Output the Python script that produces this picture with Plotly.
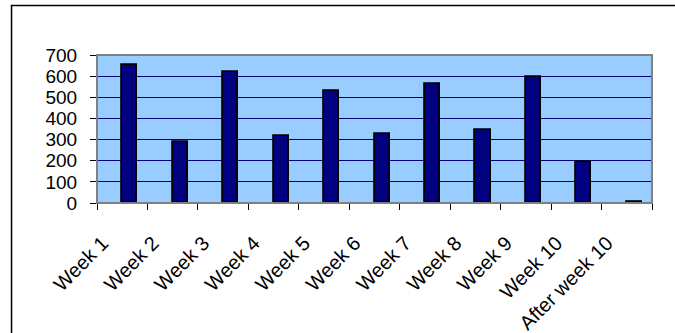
import plotly.graph_objects as go

categories = ["Week 1", "Week 2", "Week 3", "Week 4", "Week 5", "Week 6",
              "Week 7", "Week 8", "Week 9", "Week 10", "After week 10"]
values = [655, 289, 621, 316, 529, 325, 564, 344, 594, 196, 7]
y_ticks = [0, 100, 200, 300, 400, 500, 600, 700]

fig = go.Figure()
fig.add_trace(go.Bar(
    x=categories, y=values,
    width=0.3, offset=0.0,
    marker=dict(color="#000080", line=dict(color="#000000", width=1.8)),
))

font = dict(family="Liberation Sans, Arial, sans-serif", size=19, color="#000000")
xfont = dict(family="Liberation Sans, Arial, sans-serif", size=20, color="#000000")
pad_text = "\u00a0" * 5

fig.update_layout(
    width=675, height=333,
    margin=dict(l=97, r=23, t=55, b=130, pad=0, autoexpand=False),
    paper_bgcolor="#FFFFFF",
    plot_bgcolor="#99CCFF",
    showlegend=False,
    bargap=0,
    font=font,
    xaxis=dict(
        type="category",
        tickson="boundaries",
        tickmode="array",
        tickvals=categories,
        ticktext=[c + pad_text for c in categories],
        ticks="outside", ticklen=6, tickcolor="#000000", tickwidth=1,
        tickangle=-45,
        showgrid=False,
        showline=True, linecolor="#808080", linewidth=1,
        tickfont=xfont,
        automargin=False,
    ),
    yaxis=dict(
        range=[0, 700],
        tickvals=y_ticks,
        ticks="outside", ticklen=6, tickcolor="#000000", tickwidth=1,
        ticklabelstandoff=9,
        showgrid=True, gridcolor="#000080", gridwidth=1,
        showline=True, linecolor="#808080", linewidth=1,
        zeroline=False,
        tickfont=font,
        automargin=False,
    ),
    shapes=[
        # plot area border
        dict(type="rect", xref="paper", yref="paper", x0=0, x1=1, y0=0, y1=1,
             line=dict(color="#808080", width=2), layer="above"),
        # outer chart border
        dict(type="rect", xref="paper", yref="paper",
             x0=-0.154, x1=1.1, y0=-0.95, y1=1.334,
             line=dict(color="#000000", width=1.5), layer="above"),
    ],
)

fig.write_html("out.html", config={"displayModeBar": False},
               post_script="document.body.style.margin='0';")
